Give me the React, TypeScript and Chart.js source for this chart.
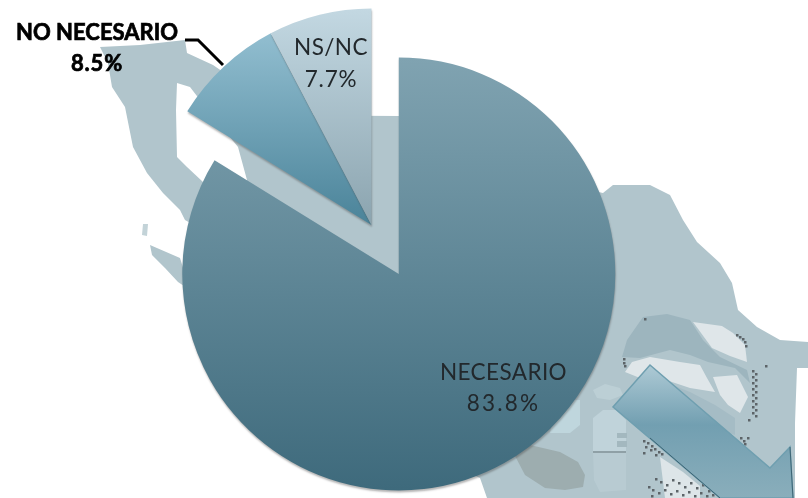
import React, { useEffect, useRef } from "react";
import { Chart, registerables } from "chart.js";

Chart.register(...registerables);

const categories = ["NECESARIO", "NO NECESARIO", "NS/NC"];
const values = [83.8, 8.5, 7.7];

const W = 808;
const H = 498;
const RADIUS = 216.5;
const CENTER_X = 371.5;
const CENTER_Y = 225;
const EXPLODE = [56, 0, 0];
const GRADIENTS = [
  { top: "#80a3b1", bottom: "#3e6a7c", from: -167, to: 265 },
  { top: "#93bfd1", bottom: "#4a8399", from: -195, to: 0 },
  { top: "#c3d8e2", bottom: "#8ba4af", from: -217, to: 0 },
];
const LABEL_POS = [
  { x: 503.5, y1: 373, y2: 404, bold: false },
  { x: 97, y1: 33, y2: 64, bold: true },
  { x: 331, y1: 48, y2: 80, bold: false },
];

type Pt = [number, number];
const MAP: Pt[] = [
  [100, 47], [140, 45], [185, 40], [187, 53], [213, 65], [232, 78], [240, 115], [399, 116], [500, 170], [603, 193], [613, 185],
  [650, 185], [670, 195], [683, 220], [697, 242], [720, 263], [732, 283], [738, 310], [757, 327],
  [780, 340], [808, 342], [808, 368], [797, 368], [795, 423], [795, 498], [487, 498], [480, 478],
  [300, 400], [238, 250], [185, 220], [180, 210], [163, 193], [147, 173], [133, 147], [125, 107],
  [112, 87], [108, 63],
];
const GULF: Pt[] = [
  [177, 83], [190, 87], [200, 100], [238, 147], [247, 180], [230, 200], [203, 182], [187, 167], [177, 157], [176, 110],
];
const ISLAND_A: Pt[] = [[143, 224], [148, 224], [147, 236], [142, 235]];
const ISLAND_B: Pt[] = [[150, 245], [180, 258], [190, 290], [178, 282], [165, 268], [152, 255]];
const PATCH_DARK: Pt[] = [
  [622, 357], [627, 340], [643, 317], [667, 314], [690, 320], [703, 340], [720, 357], [747, 370], [750, 383], [735, 368], [708, 362], [690, 355], [670, 350], [640, 358],
];
const PATCH_LIGHT_1: Pt[] = [
  [625, 372], [632, 362], [650, 357], [680, 362], [700, 365], [707, 378], [715, 392], [690, 388], [660, 378], [640, 378],
];
const PATCH_LIGHT_2: Pt[] = [
  [693, 322], [722, 326], [733, 333], [745, 345], [747, 362], [730, 356], [712, 348],
];
const PATCH_LIGHT_3: Pt[] = [
  [713, 377], [737, 375], [748, 397], [740, 413], [728, 405], [720, 395],
];
const PATCH_MID: Pt[] = [
  [660, 380], [690, 392], [715, 405], [735, 418], [735, 435], [720, 430], [700, 415], [680, 398],
];
const CAPSULE: Pt[] = [
  [514, 454], [530, 445], [560, 452], [578, 462], [585, 475], [583, 487], [565, 490], [545, 488], [525, 475],
];
const TUBE: Pt[] = [
  [593, 418], [603, 410], [616, 410], [626, 420], [626, 452], [593, 452],
];
const TUBE_LOW: Pt[] = [[593, 452], [626, 452], [626, 490], [600, 492], [594, 480]];
const GLOW: Pt[] = [[557, 400], [580, 400], [580, 425], [570, 433], [550, 433]];
const OVAL: Pt[] = [[593, 390], [605, 384], [620, 388], [623, 395], [610, 400], [597, 398]];
const PALE_BLOCK: Pt[] = [[660, 457], [683, 472], [700, 486], [700, 498], [665, 498]];
const ARROW: Pt[] = [
  [650, 365], [770, 468], [790, 447], [793, 498], [720, 498], [613, 407],
];
const SPECKLES: Pt[] = [
  [644, 318], [623, 358], [623, 362], [624, 365], [736, 334], [739, 336], [742, 338], [744, 341], [745, 345], [765, 365],
  [752, 370], [755, 373], [752, 376], [755, 379], [752, 382], [755, 385], [752, 388], [755, 391], [752, 394],
  [755, 397], [752, 400], [755, 403], [752, 406], [755, 409], [752, 412], [755, 415], [748, 419],
  [643, 440], [647, 442], [651, 445], [645, 446], [650, 449], [654, 448], [658, 451], [643, 452], [655, 454], [661, 453],
  [740, 437], [743, 440], [747, 437], [744, 443],
  [655, 478], [660, 481], [666, 484], [672, 479], [678, 482], [684, 486], [690, 482], [696, 487], [702, 484], [708, 490],
  [652, 489], [658, 492], [664, 489], [670, 493], [676, 490], [682, 494], [688, 491], [694, 495], [700, 492], [706, 495], [712, 494],
  [648, 486], [651, 495],
];

function poly(ctx: CanvasRenderingContext2D, pts: Pt[], fill: string | CanvasGradient) {
  ctx.beginPath();
  pts.forEach(([x, y], i) => (i ? ctx.lineTo(x, y) : ctx.moveTo(x, y)));
  ctx.closePath();
  ctx.fillStyle = fill;
  ctx.fill();
}

const backdrop = {
  id: "backdrop",
  beforeDatasetsDraw(chart: any) {
    const ctx: CanvasRenderingContext2D = chart.ctx;
    ctx.save();
    ctx.fillStyle = "#fff";
    ctx.fillRect(0, 0, W, H);
    poly(ctx, MAP, "#b1c5cc");
    poly(ctx, GULF, "#ffffff");
    poly(ctx, ISLAND_A, "#c3d3d8");
    poly(ctx, ISLAND_B, "#b1c5cc");
    poly(ctx, PATCH_DARK, "#9db5be");
    poly(ctx, PATCH_LIGHT_1, "#dfe6e9");
    poly(ctx, PATCH_LIGHT_2, "#dfe6e9");
    poly(ctx, PATCH_LIGHT_3, "#dfe6e9");
    poly(ctx, PATCH_MID, "#a5bcc5");
    poly(ctx, CAPSULE, "#9dadaf");
    poly(ctx, GLOW, "#bfd6dd");
    poly(ctx, OVAL, "#bccfd5");
    poly(ctx, TUBE, "#c0d3da");
    poly(ctx, TUBE_LOW, "#b8cbd2");
    poly(ctx, PALE_BLOCK, "#dde5e8");
    ctx.fillStyle = "#a3b8bf";
    ctx.fillRect(617, 433, 10, 5);
    ctx.fillRect(617, 441, 10, 6);
    ctx.fillStyle = "#8fa0a6";
    ctx.fillRect(593, 451, 33, 2);
    ctx.fillStyle = "#5d6468";
    SPECKLES.forEach(([x, y]) => ctx.fillRect(x, y, 2.5, 2.5));
    const g = ctx.createLinearGradient(0, 365, 0, 498);
    g.addColorStop(0, "#aecad5");
    g.addColorStop(0.45, "#729fb1");
    g.addColorStop(1, "#8aaebb");
    poly(ctx, ARROW, g);
    ctx.strokeStyle = "#6f9fb0";
    ctx.lineWidth = 1.5;
    ctx.stroke();
    ctx.beginPath();
    ctx.moveTo(790, 447);
    ctx.lineTo(793, 498);
    ctx.moveTo(650, 438);
    ctx.lineTo(720, 498);
    ctx.strokeStyle = "#3d6473";
    ctx.lineWidth = 1;
    ctx.stroke();
    ctx.shadowColor = "rgba(70,70,70,0.4)";
    ctx.shadowBlur = 2;
    ctx.shadowOffsetX = 0.5;
    ctx.shadowOffsetY = 2;
  },
  afterDatasetsDraw(chart: any) {
    chart.ctx.restore();
  },
};

const explodeSlices = {
  id: "explodeSlices",
  afterDatasetsUpdate(chart: any) {
    chart.getDatasetMeta(0).data.forEach((arc: any, i: number) => {
      const mid = (arc.startAngle + arc.endAngle) / 2;
      arc.x = CENTER_X + Math.cos(mid) * EXPLODE[i];
      arc.y = CENTER_Y + Math.sin(mid) * EXPLODE[i];
    });
  },
};

const sliceLabels = {
  id: "sliceLabels",
  afterDraw(chart: any) {
    const ctx: CanvasRenderingContext2D = chart.ctx as any;
    ctx.save();
    ctx.textAlign = "center";
    ctx.textBaseline = "middle";
    categories.forEach((name, i) => {
      const p = LABEL_POS[i];
      const pct = values[i].toFixed(1) + "%";
      ctx.fillStyle = p.bold ? "#000" : "#22282c";
      ctx.strokeStyle = "#000";
      ctx.lineWidth = 0.7;
      ctx.font = p.bold ? "bold 22px Lato" : "22.5px Lato";
      (ctx as any).letterSpacing = p.bold ? "0px" : "0.4px";
      ctx.fillText(name, p.x, p.y1);
      if (p.bold) ctx.strokeText(name, p.x, p.y1);
      (ctx as any).letterSpacing = i === 0 ? "2.2px" : "0.8px";
      ctx.fillText(pct, p.x, p.y2);
      if (p.bold) ctx.strokeText(pct, p.x, p.y2);
    });
    ctx.beginPath();
    ctx.moveTo(185, 40);
    ctx.lineTo(198, 40);
    ctx.lineTo(223, 65);
    ctx.strokeStyle = "#000";
    ctx.lineWidth = 3;
    ctx.stroke();
    ctx.restore();
  },
};

export default function App() {
  const ref = useRef<HTMLCanvasElement>(null);
  useEffect(() => {
    const chart = new Chart(ref.current!, {
      type: "pie",
      plugins: [backdrop, explodeSlices, sliceLabels],
      data: {
        labels: categories,
        datasets: [
          {
            data: values,
            borderWidth: 0,
            backgroundColor: (c: any) => {
              const g = GRADIENTS[c.dataIndex];
              const grad = c.chart.ctx.createLinearGradient(0, CENTER_Y + g.from, 0, CENTER_Y + g.to);
              grad.addColorStop(0, g.top);
              grad.addColorStop(1, g.bottom);
              return grad;
            },
          },
        ],
      },
      options: {
        responsive: false,
        animation: false,
        radius: RADIUS,
        layout: { padding: { left: 0, top: 0, right: W - 2 * CENTER_X, bottom: H - 2 * CENTER_Y } },
        plugins: { legend: { display: false }, tooltip: { enabled: false } },
      } as any,
    });
    return () => chart.destroy();
  }, []);
  return (
    <div style={{ position: "fixed", left: 0, top: 0, width: W, height: H, overflow: "hidden", background: "#fff" }}>
      <canvas ref={ref} width={W} height={H} style={{ display: "block", filter: "blur(0.5px)" }} />
    </div>
  );
}
